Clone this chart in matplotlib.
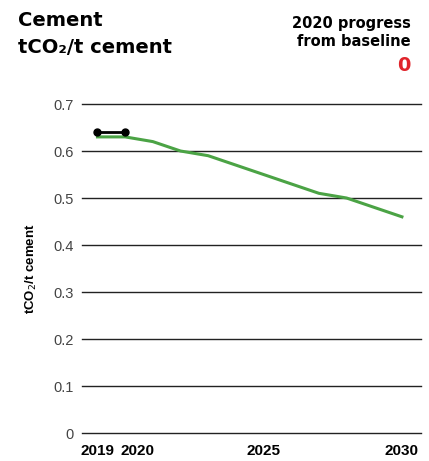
import matplotlib.pyplot as plt
import matplotlib.transforms as mtransforms

plt.rcParams['font.family'] = ['Liberation Sans', 'DejaVu Sans']

years = [2019, 2020, 2021, 2022, 2023, 2024, 2025, 2026, 2027, 2028, 2029, 2030]
target = [0.63, 0.63, 0.62, 0.60, 0.59, 0.57, 0.55, 0.53, 0.51, 0.50, 0.48, 0.46]
actual_years = [2019, 2020]
actual = [0.64, 0.64]
yticks = [0, 0.1, 0.2, 0.3, 0.4, 0.5, 0.6, 0.7]
xticks = [2019, 2020, 2025, 2030]
progress = "0"

fig = plt.figure(figsize=(4.29, 4.61), dpi=100)
ax = fig.add_axes([0.1911, 0.0607, 0.7903, 0.7137])

for v in yticks:
    ax.axhline(v, color='#222222', lw=1.0, zorder=1, clip_on=False)

ax.plot(years, target, color='#4ba345', lw=2.2, zorder=2, clip_on=False)
ax.plot(actual_years, actual, color='black', lw=2.0, marker='o', ms=5, zorder=3, clip_on=False)

ax.set_xlim(2018.44, 2030.69)
ax.set_ylim(0, 0.7)
ax.set_yticks(yticks)
ax.set_yticklabels(['0' if v == 0 else f'{v:.1f}' for v in yticks])
ax.set_xticks(xticks)
ax.set_xticklabels([str(x) for x in xticks])
ax.tick_params(axis='y', length=0, pad=6, labelsize=10.5, labelcolor='#444444')
ax.tick_params(axis='x', length=0, pad=8, labelsize=11)
for lbl in ax.get_xticklabels():
    lbl.set_fontweight('bold')
# nudge the 2020 label clear of 2019
lbl2020 = ax.get_xticklabels()[1]
lbl2020.set_transform(lbl2020.get_transform() + mtransforms.ScaledTranslation(12 / 100, 0, fig.dpi_scale_trans))

for s in ax.spines.values():
    s.set_visible(False)

ax.set_ylabel('tCO$_2$/t cement', fontsize=9.5, fontweight='bold')
ax.yaxis.set_label_coords(-0.127, 0.5)

head = dict(fontweight='bold', va='center', family='DejaVu Sans')
fig.text(0.042, 0.955, 'Cement', fontsize=14, ha='left', **head)
fig.text(0.042, 0.898, 'tCO\u2082/t cement', fontsize=14, ha='left', **head)
fig.text(0.958, 0.95, '2020 progress', fontsize=10.5, ha='right', **head)
fig.text(0.958, 0.909, 'from baseline', fontsize=10.5, ha='right', **head)
fig.text(0.958, 0.859, progress, fontsize=14, color='#e0242b', ha='right', **head)

fig.savefig('out.png', dpi=100)
